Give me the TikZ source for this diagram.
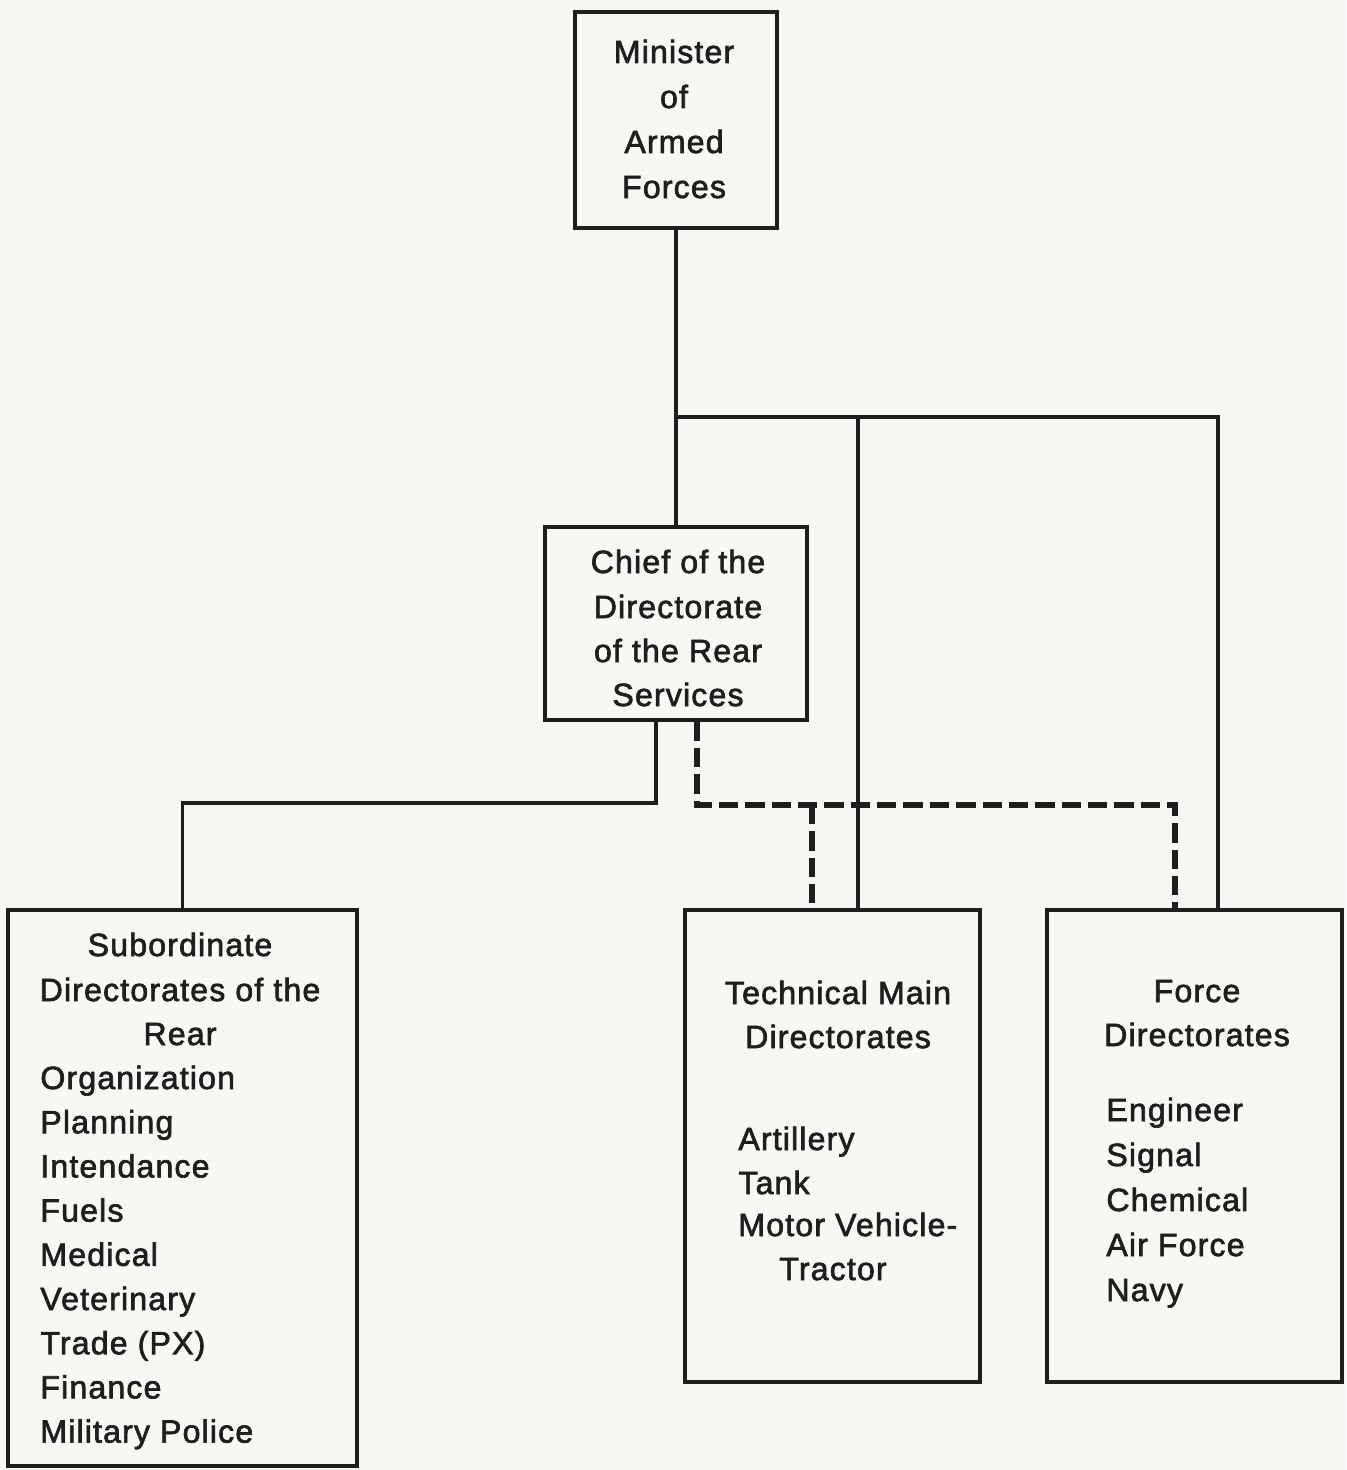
\documentclass[tikz,border=0pt]{standalone}
\usepackage{fontspec}
\setmainfont{Liberation Sans}[LetterSpace=3.5,FakeBold=2]
\usetikzlibrary{calc,fit}
\definecolor{ink}{HTML}{1E1E1E}
\definecolor{paper}{HTML}{F7F7F3}
\begin{document}
\begin{tikzpicture}[x=0.02cm,y=-0.02cm,
  box/.style={draw=ink,line width=1.8pt,inner sep=0pt},
  conn/.style={draw=ink,line width=2.2pt},
  dsh/.style={draw=ink,line width=3pt,dash pattern=on 11pt off 4pt},
  txt/.style={text=ink,inner sep=0pt,font=\fontsize{18.3}{25}\selectfont},
  hd/.style={txt,anchor=base},
  item/.style={txt,anchor=base west}]
% page
\fill[paper] (0,0) rectangle (1346,1470);
\useasboundingbox (0,0) rectangle (1346,1470);

% boxes
\node[box,fit={(575,12) (777,228)}] (minister) {};
\node[box,fit={(545,527) (807,720)}] (chief) {};
\node[box,fit={(8,910) (357,1466)}] (sub) {};
\node[box,fit={(685,910) (980,1382)}] (tech) {};
\node[box,fit={(1047,910) (1342,1382)}] (force) {};

% Minister
\node[hd] (m1) at (674,63) {Minister};
\node[hd] (m2) at (674,108) {of};
\node[hd] (m3) at (674,153) {Armed};
\node[hd] (m4) at (674,198) {Forces};

% Chief of rear services
\node[hd] (c1) at (678,573) {Chief of the};
\node[hd] (c2) at (678,618) {Directorate};
\node[hd] (c3) at (678,662) {of the Rear};
\node[hd] (c4) at (678,706) {Services};

% Subordinate directorates
\node[hd] (s0a) at (180,956) {Subordinate};
\node[hd] (s0b) at (180,1001) {Directorates of the};
\node[hd] (s0c) at (180,1045) {Rear};
\foreach \t [count=\i] in {Organization,Planning,Intendance,Fuels,Medical,Veterinary,Trade (PX),Finance,Military Police}
  \node[item] (s\i) at (40,{1089+44.2*(\i-1)}) {\t};

% Technical main directorates
\node[hd] (t0a) at (838,1004) {Technical Main};
\node[hd] (t0b) at (838,1048) {Directorates};
\node[item] (t1) at (738,1150) {Artillery};
\node[item] (t2) at (738,1194) {Tank};
\node[item] (t3) at (738,1236) {Motor Vehicle-};
\node[hd] (t4) at (833,1280) {Tractor};

% Force directorates
\node[hd] (f0a) at (1197,1002) {Force};
\node[hd] (f0b) at (1197,1046) {Directorates};
\foreach \t [count=\i] in {Engineer,Signal,Chemical,Air Force,Navy}
  \node[item] (f\i) at (1106,{1121+45*(\i-1)}) {\t};

% junction levels and attachment points
\coordinate (jT) at (0,417);
\coordinate (jL) at (0,803);
\coordinate (jR) at (0,805);
\coordinate (cl) at ($(chief.south)+(-20,0)$);
\coordinate (cr) at ($(chief.south)+(21,0)$);
\coordinate (tt) at ($(tech.north)+(25.5,0)$);
\coordinate (td) at ($(tech.north)+(-20.5,0)$);
\coordinate (ft) at ($(force.north)+(23.5,0)$);
\coordinate (fd) at ($(force.north)+(-19.5,0)$);

% command lines
\draw[conn] (minister.south) -- (chief.north);
\draw[conn] (minister.south |- jT) -| (ft);
\draw[conn] (tt |- jT) -- (tt);
\draw[conn] (cl) |- (sub.north |- jL) -- (sub.north);

% coordination lines
\draw[dsh] (cr) |- (fd |- jR) -- (fd);
\draw[dsh] (td |- jR) -- (td);
\end{tikzpicture}
\end{document}
